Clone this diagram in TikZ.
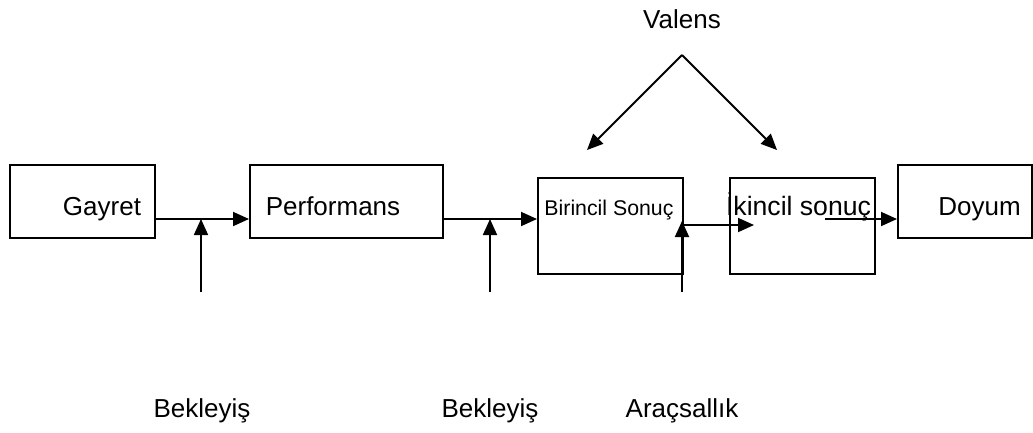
\documentclass[tikz,border=0pt]{standalone}
\usepackage{fontspec}
\setmainfont{Liberation Sans}
\usetikzlibrary{arrows.meta}
\begin{document}
\begin{tikzpicture}[x=1pt,y=-1pt,
  box/.style={draw,line width=1.8pt,inner sep=0pt,anchor=north west},
  lbl/.style={inner sep=0pt,anchor=base},
  con/.style={line width=1.8pt,-{Triangle[length=16pt,width=14pt]}}]
\useasboundingbox (0,0) rectangle (1033,432);
% boxes
\node[box,minimum width=145pt,minimum height=73pt] (gay) at (9,164) {};
\node[box,minimum width=193pt,minimum height=73pt] (perf) at (249,164) {};
\node[box,minimum width=145pt,minimum height=96pt] (bir) at (537,177) {};
\node[box,minimum width=145pt,minimum height=96pt] (iki) at (729,177) {};
\node[box,minimum width=134pt,minimum height=73pt] (doy) at (897,164) {};
% box texts
\node[lbl,font=\fontsize{26}{30}\selectfont] (tgay) at (102,215) {Gayret};
\node[lbl,font=\fontsize{26}{30}\selectfont] (tperf) at (333,215) {Performans};
\node[lbl,font=\fontsize{21.3}{25}\selectfont] (tbir) at (609,215) {Birincil Sonuç};
\node[lbl,font=\fontsize{26.6}{30}\selectfont] (tiki) at (798.5,215) {İkincil sonuç};
\node[lbl,font=\fontsize{26}{30}\selectfont] (tdoy) at (979.5,215) {Doyum};
% top label
\node[lbl,font=\fontsize{26}{30}\selectfont] (val) at (682,28) {Valens};
% bottom labels
\node[lbl,font=\fontsize{26}{30}\selectfont] (b1) at (202,417) {Bekleyiş};
\node[lbl,font=\fontsize{26}{30}\selectfont] (b2) at (490,417) {Bekleyiş};
\node[lbl,font=\fontsize{26}{30}\selectfont] (b3) at (682,417) {Araçsallık};
% coordinates
\coordinate (apex) at (682,55);
\coordinate (vl) at (587,150);
\coordinate (vr) at (777,150);
\coordinate (s1) at (201,292);
\coordinate (e1) at (201,219);
\coordinate (s2) at (490,292);
\coordinate (e2) at (490,219);
\coordinate (s3) at (682,292);
\coordinate (e3) at (682,221);
\coordinate (bi1) at (682,225);
\coordinate (bi2) at (754,225);
\coordinate (ik1) at (825,219);
% connectors
\draw[con] (gay.east |- e1) -- (perf.west |- e1);
\draw[con] (perf.east |- e2) -- (bir.west |- e2);
\draw[con] (bi1) -- (bi2);
\draw[con] (ik1) -- (doy.west |- ik1);
\draw[con] (s1) -- (e1);
\draw[con] (s2) -- (e2);
\draw[con] (s3) -- (e3);
\draw[con] (apex) -- (vl);
\draw[con] (apex) -- (vr);
\end{tikzpicture}
\end{document}
